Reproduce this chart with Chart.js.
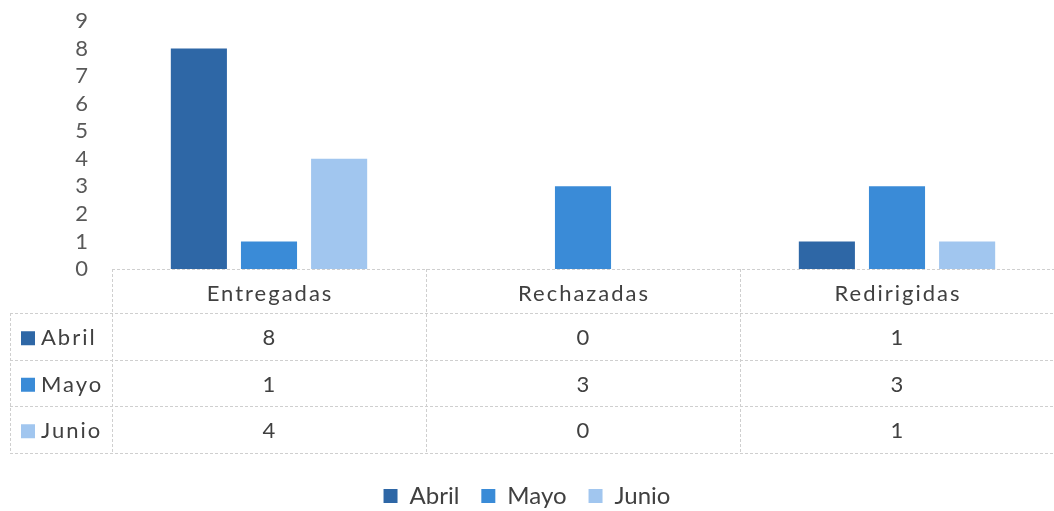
<!DOCTYPE html>
<html>
<head>
<meta charset="utf-8">
<script src="https://cdn.jsdelivr.net/npm/chart.js@4.4.1/dist/chart.umd.min.js"></script>
<style>
  html, body { margin: 0; padding: 0; background: #fff; }
  #wrap { width: 1054px; height: 511px; position: relative; }
</style>
</head>
<body>
<div id="wrap"><canvas id="chart"></canvas></div>
<script>
// Data
const categories = ['Entregadas', 'Rechazadas', 'Redirigidas']
const seriesNames = ['Abril', 'Mayo', 'Junio']
const abrilValues = [8, 0, 1]
const mayoValues = [1, 3, 3]
const junioValues = [4, 0, 1]
const yMin = 0
const yMax = 9

const seriesColors = ['#2e67a6', '#3a8bd7', '#a1c6ef']
const textColor = '#404040'
const fontFamily = 'Lato, "Open Sans", sans-serif'

// Data table drawn under the plot, using the x scale for column positions
const dataTablePlugin = {
  id: 'dataTable',
  afterDraw(chart) {
    const ctx = chart.ctx
    const x = chart.scales.x
    const top = chart.chartArea.bottom
    const colW = x.width / categories.length
    const headerH = 44
    const rowH = 46.5
    const tableLeft = 10
    const rows = [abrilValues, mayoValues, junioValues]
    const bottom = top + headerH + rowH * rows.length

    ctx.save()
    ctx.strokeStyle = '#cfcfcf'
    ctx.lineWidth = 1
    ctx.setLineDash([3, 2])

    // top border along the axis
    ctx.beginPath()
    ctx.moveTo(x.left, top + 0.5)
    ctx.lineTo(x.right, top + 0.5)
    // horizontal row lines
    for (let r = 0; r <= rows.length; r++) {
      const y = Math.round(top + headerH + r * rowH) + 0.5
      ctx.moveTo(tableLeft, y)
      ctx.lineTo(x.right, y)
    }
    // vertical column lines
    for (let c = 0; c <= categories.length; c++) {
      const xx = Math.round(x.left + c * colW) + 0.5
      ctx.moveTo(xx, top)
      ctx.lineTo(xx, bottom)
    }
    ctx.moveTo(tableLeft + 0.5, top + headerH)
    ctx.lineTo(tableLeft + 0.5, bottom)
    ctx.stroke()
    ctx.setLineDash([])

    ctx.fillStyle = textColor
    ctx.textBaseline = 'middle'
    ctx.textAlign = 'center'
    ctx.letterSpacing = '2px'
    ctx.font = '22px ' + fontFamily
    categories.forEach((cat, i) => {
      ctx.fillText(cat, x.getPixelForValue(i) + 1, top + headerH / 2 + 3)
    })

    rows.forEach((vals, r) => {
      const cy = top + headerH + r * rowH + rowH / 2 + 2
      vals.forEach((v, i) => {
        ctx.textAlign = 'center'
        ctx.fillStyle = textColor
        ctx.fillText(String(v), x.getPixelForValue(i) + 1, cy)
      })
      ctx.fillStyle = seriesColors[r]
      ctx.fillRect(21, cy - 7, 14, 14)
      ctx.fillStyle = textColor
      ctx.textAlign = 'left'
      ctx.fillText(seriesNames[r], 41, cy)
    })
    ctx.restore()
  }
}

const datasets = [abrilValues, mayoValues, junioValues].map((vals, i) => ({
  label: seriesNames[i],
  data: vals,
  backgroundColor: seriesColors[i],
  borderWidth: 0,
  categoryPercentage: 0.67,
  barPercentage: 0.8
}))

new Chart(document.getElementById('chart'), {
  type: 'bar',
  data: { labels: categories, datasets: datasets },
  plugins: [dataTablePlugin],
  options: {
    responsive: true,
    maintainAspectRatio: false,
    animation: false,
    layout: { padding: { top: 21, right: 0, bottom: -7, left: 0 } },
    plugins: {
      tooltip: { enabled: false },
      legend: {
        position: 'bottom',
        labels: {
          boxWidth: 14,
          boxHeight: 14,
          padding: 22,
          color: textColor,
          font: { family: fontFamily, size: 24 }
        }
      }
    },
    scales: {
      x: {
        grid: { display: false },
        border: { display: false },
        ticks: { display: false },
        afterFit: (scale) => { scale.height = 193 }
      },
      y: {
        min: yMin,
        max: yMax,
        grid: { display: false, drawTicks: false },
        border: { display: false },
        ticks: {
          stepSize: 1,
          autoSkip: false,
          padding: 24,
          color: '#595959',
          font: { family: fontFamily, size: 22 }
        },
        afterFit: (scale) => {
          scale.width = 112
          // tick padding would otherwise push the plot top down
          scale.paddingTop = 0
          scale.paddingBottom = 0
        }
      }
    }
  }
})
</script>
</body>
</html>
